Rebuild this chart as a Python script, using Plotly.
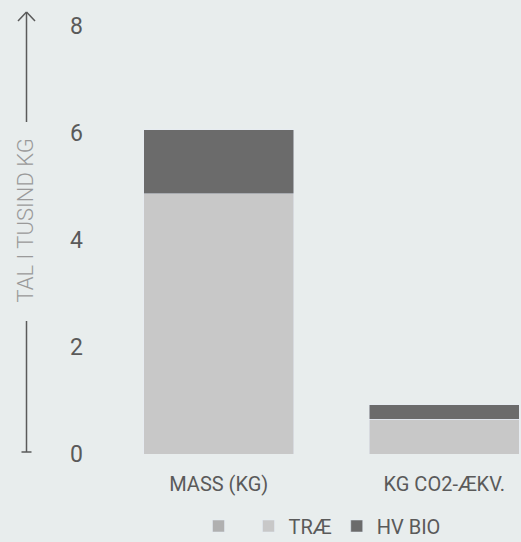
import plotly.graph_objects as go

categories = ["MASS (KG)", "KG CO2-ÆKV."]
blank_vals = [0, 0]
trae_vals = [4.86, 0.65]
hvbio_vals = [1.2, 0.27]
y_ticks = [0, 2, 4, 6, 8]

BG = "#e8eded"
W, H = 521, 542
ML, MR, MT, MB = 106, 0, 26, 88
PW, PH = W - ML - MR, H - MT - MB

def px(x):
    return (x - ML) / PW

def py(y):
    return (H - MB - y) / PH

fig = go.Figure()
fig.add_trace(go.Bar(x=categories, y=blank_vals, name=" ", marker_color="#b0b0b0"))
fig.add_trace(go.Bar(x=categories, y=trae_vals, name="TRÆ", marker_color="#c8c8c8"))
fig.add_trace(go.Bar(x=categories, y=hvbio_vals, name="HV BIO", marker_color="#6b6b6b"))

line = dict(color="#5a5a5a", width=1.5)
shapes = [
    dict(type="line", xref="paper", yref="paper", x0=px(26.5), x1=px(26.5), y0=py(122), y1=py(12), line=line),
    dict(type="line", xref="paper", yref="paper", x0=px(18), x1=px(26.5), y0=py(21), y1=py(12), line=line),
    dict(type="line", xref="paper", yref="paper", x0=px(35), x1=px(26.5), y0=py(21), y1=py(12), line=line),
    dict(type="line", xref="paper", yref="paper", x0=px(26.5), x1=px(26.5), y0=py(321), y1=py(452), line=line),
    dict(type="line", xref="paper", yref="paper", x0=px(21.5), x1=px(31.5), y0=py(452), y1=py(452), line=line),
]

fig.update_layout(
    width=W, height=H,
    margin=dict(l=ML, r=MR, t=MT, b=MB, autoexpand=False),
    paper_bgcolor=BG, plot_bgcolor=BG,
    barmode="stack", bargap=0.335,
    font=dict(family="Roboto", color="#555555"),
    xaxis=dict(range=[-0.5, -0.5 + PW / 225.5], showgrid=False, zeroline=False,
               showline=False, ticks="", tickfont=dict(size=20, color="#5a5a5a"),
               ticklabelstandoff=16, automargin=False),
    yaxis=dict(range=[0, 8], tickvals=y_ticks, showgrid=False, zeroline=False,
               showline=False, ticks="", tickfont=dict(size=23, color="#5a5a5a"),
               ticklabelstandoff=22, automargin=False),
    legend=dict(orientation="h", xref="paper", yref="paper",
                x=px(322), xanchor="center", y=py(526), yanchor="middle",
                font=dict(size=20, color="#5a5a5a"), bgcolor="rgba(0,0,0,0)",
                traceorder="normal"),
    shapes=shapes,
    annotations=[dict(text="TAL I TUSIND KG", xref="paper", yref="paper",
                      x=px(25), y=py(220.5), xanchor="center", yanchor="middle",
                      textangle=-90, showarrow=False,
                      font=dict(size=22, color="#9a9a9a", weight=300))],
    showlegend=True,
)

fig.write_html("out.html", config={"displayModeBar": False},
               post_script="document.body.style.margin='0';")
